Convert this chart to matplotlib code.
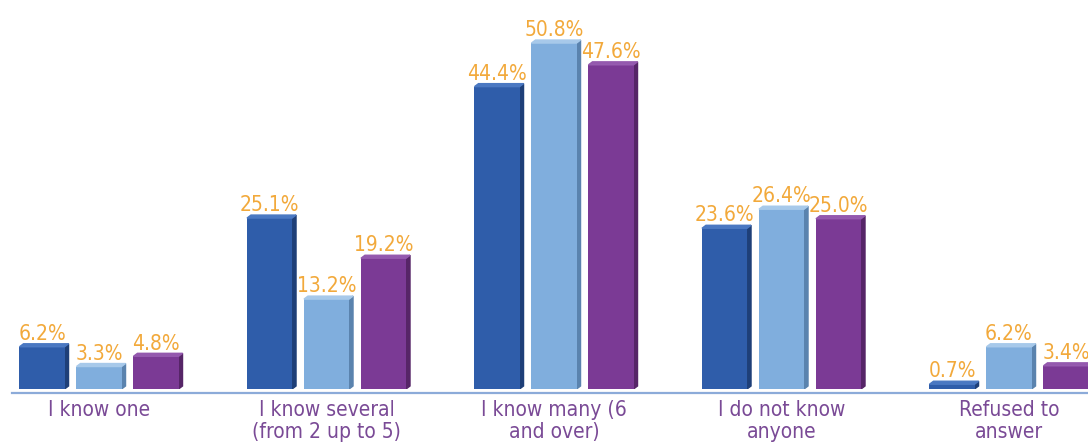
import numpy as np
import matplotlib.pyplot as plt
from matplotlib.patches import Polygon

categories = ['I know one', 'I know several\n(from 2 up to 5)', 'I know many (6\nand over)',
              'I do not know\nanyone', 'Refused to\nanswer']
series_a = [6.2, 25.1, 44.4, 23.6, 0.7]
series_b = [3.3, 13.2, 50.8, 26.4, 6.2]
series_c = [4.8, 19.2, 47.6, 25.0, 3.4]

colors = ['#2F5DAA', '#80AEDD', '#7B3A95']
side_colors = ['#1E3F78', '#5A83AE', '#562567']
top_colors = ['#4A78C2', '#A7C9EA', '#9459AE']
label_color = '#F2A93B'
cat_color = '#7A4A96'

fig = plt.figure(figsize=(10.88, 4.46), dpi=100)
ax = fig.add_axes([0, 57 / 446, 1, 389 / 446])

x = np.arange(len(categories))
offset = 0.2505
width = 0.198
ymax = 389 / 6.81
ax.set_xlim(-99 / 227.5, (1088 - 99) / 227.5)
ax.set_ylim(0, ymax)

# depth of the fake 3D faces in data units
dx = 4 / 227.5
dy = 3 / 6.81

for k, vals in enumerate([series_a, series_b, series_c]):
    pos = x + (k - 1) * offset
    bars = ax.bar(pos, vals, width=width, color=colors[k], zorder=3)
    for b, v in zip(bars, vals):
        x0 = b.get_x()
        x1 = x0 + b.get_width()
        h = b.get_height()
        side = Polygon([(x1, 0), (x1 + dx, dy), (x1 + dx, h + dy), (x1, h)],
                       closed=True, color=side_colors[k], zorder=2)
        top = Polygon([(x0, h), (x0 + dx, h + dy), (x1 + dx, h + dy), (x1, h)],
                      closed=True, color=top_colors[k], zorder=3)
        ax.add_patch(side)
        ax.add_patch(top)
        ax.text(b.get_x() + b.get_width() / 2, h + 1.0, f'{v:.1f}%',
                ha='center', va='baseline', color=label_color, fontsize=15,
                family='DejaVu Sans', stretch='condensed', zorder=4)

# baseline sits a few pixels under the bars
ax.axhline(-4 / 6.81, xmin=12 / 1088, xmax=1, color='#8CABD9', lw=1.6, zorder=1, clip_on=False)

for xi, name in zip(x, categories):
    fig.text((99 + 227.5 * xi) / 1088, 1 - 400 / 446, name, ha='center', va='top',
             color=cat_color, fontsize=15, linespacing=1.1,
             family='DejaVu Sans', stretch='condensed')

ax.axis('off')
fig.savefig('out.png', dpi=100, facecolor='white')
